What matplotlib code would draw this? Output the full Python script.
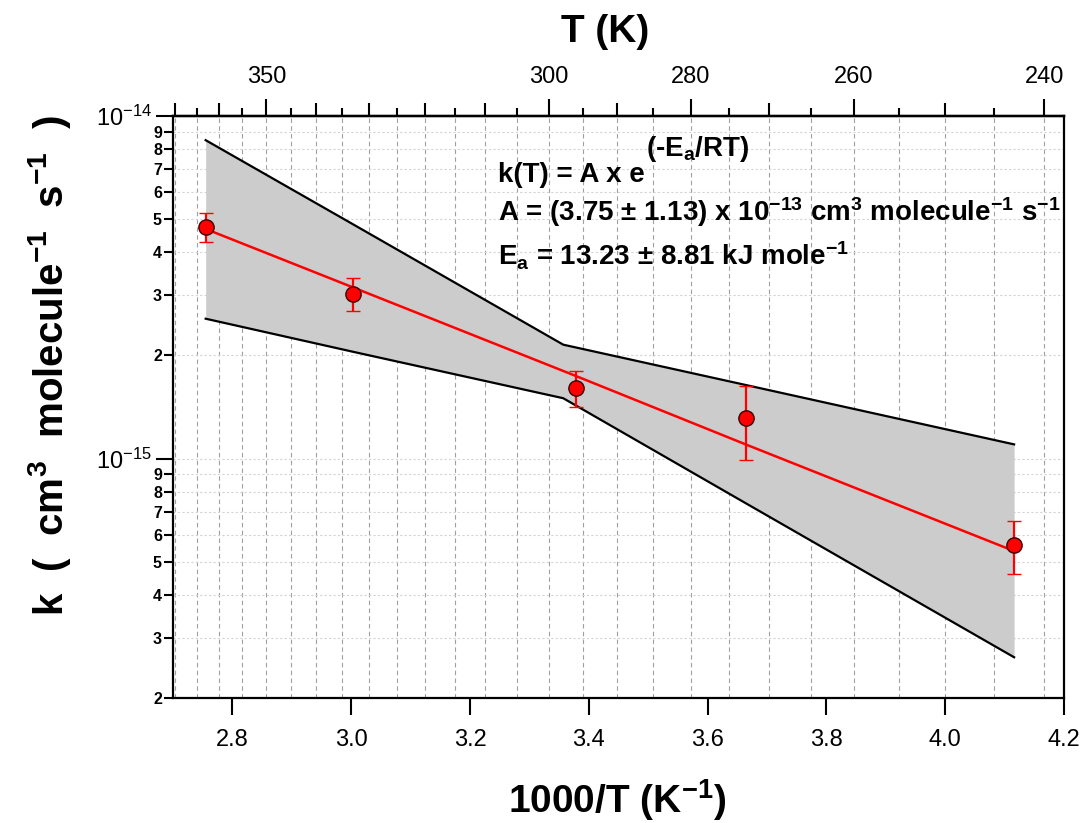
import numpy as np
import matplotlib
matplotlib.use('Agg')
import matplotlib.pyplot as plt
from matplotlib.ticker import NullFormatter, NullLocator

plt.rcParams['font.family'] = ['Liberation Sans', 'DejaVu Sans']

# valores
inv_T = [2.755, 3.003, 3.379, 3.664, 4.116]          # 1000/T (K^-1)
k_obs = [4.75e-15, 3.03e-15, 1.61e-15, 1.31e-15, 5.58e-16]
k_err = [4.5e-16, 3.3e-16, 1.95e-16, 3.2e-16, 9.8e-17]
k_fit = [4.68e-15, 3.16e-15, 1.74e-15, 1.10e-15, 5.37e-16]

# banda de confianca
band_x = [2.755, 3.003, 3.357, 3.664, 4.116]
band_hi = [8.5e-15, 4.83e-15, 2.15e-15, 1.64e-15, 1.10e-15]
band_lo = [2.56e-15, 2.05e-15, 1.50e-15, 7.41e-16, 2.63e-16]

# eixo superior em T (K)
T_major = [350, 300, 280, 260, 240]
T_mid = [370, 360, 340, 330, 320, 310, 290, 270, 250]
T_minor = [365, 355, 345, 335, 325, 315, 305, 295, 285, 275, 265, 255, 245]

x_ticks = [2.8, 3.0, 3.2, 3.4, 3.6, 3.8, 4.0, 4.2]


def inv(x):
    x = np.asarray(x, dtype=float)
    with np.errstate(divide='ignore'):
        return 1000.0 / x


fig = plt.figure(figsize=(10.83, 8.23), dpi=100)
ax = fig.add_axes([173/1083, 125/823, 891/1083, 582/823])

# grade vertical nas posicoes de T
for t in T_major + T_mid + T_minor:
    ax.axvline(1000.0/t, color='#a0a0a0', lw=0.8, ls=(0, (4, 3)), zorder=0.5)

ax.fill_between(band_x, band_lo, band_hi, color='#cccccc', lw=0, zorder=1)
ax.plot(band_x, band_hi, color='k', lw=1.6, zorder=2)
ax.plot(band_x, band_lo, color='k', lw=1.6, zorder=2)

ax.plot(inv_T, k_fit, color='red', lw=1.8, zorder=3)
ax.errorbar(inv_T, k_obs, yerr=k_err, fmt='o', color='red', ecolor='red',
            mfc='red', mec='#3a0000', mew=1.0, ms=11, capsize=5,
            elinewidth=1.6, capthick=1.6, zorder=4)

ax.set_xlim(2.7, 4.2)
ax.set_yscale('log')
ax.set_ylim(2e-16, 1e-14)

ax.set_xticks(x_ticks, labels=['%.1f' % v for v in x_ticks], fontsize=17)
ax.xaxis.set_minor_locator(NullLocator())

ax.set_yticks([1e-15, 1e-14],
              labels=[r'$\mathregular{10^{-15}}$', r'$\mathregular{10^{-14}}$'],
              fontsize=17)
y_minor = [m*1e-16 for m in range(2, 10)] + [m*1e-15 for m in range(2, 10)]
ax.set_yticks(y_minor, labels=[str(m) for m in list(range(2, 10))*2],
              minor=True, fontsize=11.5, fontweight='bold')

ax.yaxis.grid(True, which='both', color='#d4d4d4', lw=0.8, ls=(0, (2, 2)))
ax.set_axisbelow(True)

ax.tick_params(axis='x', which='major', direction='out', length=12, width=1.5,
               pad=10, top=False)
ax.tick_params(axis='y', which='major', direction='out', length=12, width=1.5,
               pad=3, right=False)
ax.tick_params(axis='y', which='minor', direction='out', length=6.5, width=1.5,
               pad=1.5, right=False)
for s in ax.spines.values():
    s.set_linewidth(1.6)

# eixo superior
sec = ax.secondary_xaxis('top', functions=(inv, inv))
sec.set_xticks(T_major, labels=[str(t) for t in T_major], fontsize=17)
sec.set_xticks(T_minor, minor=True)
sec.xaxis.set_minor_formatter(NullFormatter())
sec.tick_params(which='major', direction='out', length=12, width=1.5, pad=8)
sec.tick_params(which='minor', direction='out', length=6, width=1.5)
sec.spines['top'].set_linewidth(1.6)

sec2 = ax.secondary_xaxis('top', functions=(inv, inv))
sec2.set_xticks(T_mid)
sec2.xaxis.set_major_formatter(NullFormatter())
sec2.xaxis.set_minor_locator(NullLocator())
sec2.tick_params(which='major', direction='out', length=9.5, width=1.5)
sec2.spines['top'].set_linewidth(1.6)

# textos
fig.text(605/1083, 1 - 42/823, 'T (K)', ha='center', va='baseline',
         fontsize=28, fontweight='bold')
fig.text(617/1083, 10/823, r'1000/T (K$\mathregular{^{-1}}$)', ha='center',
         va='baseline', fontsize=28, fontweight='bold')
fig.text(50/1083, 1 - 366/823,
         r'k  (  cm$\mathregular{^{3}}$  molecule$\mathregular{^{-1}}$  s$\mathregular{^{-1}}$  )',
         rotation=90, ha='center', va='center', fontsize=29, fontweight='bold')

t1 = fig.text(498/1083, 1 - 182/823, 'k(T) = A x e', va='baseline',
              fontsize=20, fontweight='bold')
ax.annotate(r'(-E$\mathregular{_a}$/RT)', xy=(1, 0), xycoords=t1,
            xytext=(1, 23), textcoords='offset points', va='baseline',
            fontsize=20, fontweight='bold')
fig.text(498/1083, 1 - 221/823,
         r'A = (3.75 ± 1.13) x 10$\mathregular{^{-13}}$ cm$\mathregular{^{3}}$ molecule$\mathregular{^{-1}}$ s$\mathregular{^{-1}}$',
         va='baseline', fontsize=20, fontweight='bold')
fig.text(498/1083, 1 - 265/823,
         r'E$\mathregular{_a}$ = 13.23 ± 8.81 kJ mole$\mathregular{^{-1}}$',
         va='baseline', fontsize=20, fontweight='bold')

fig.savefig('out.png', dpi=100)
